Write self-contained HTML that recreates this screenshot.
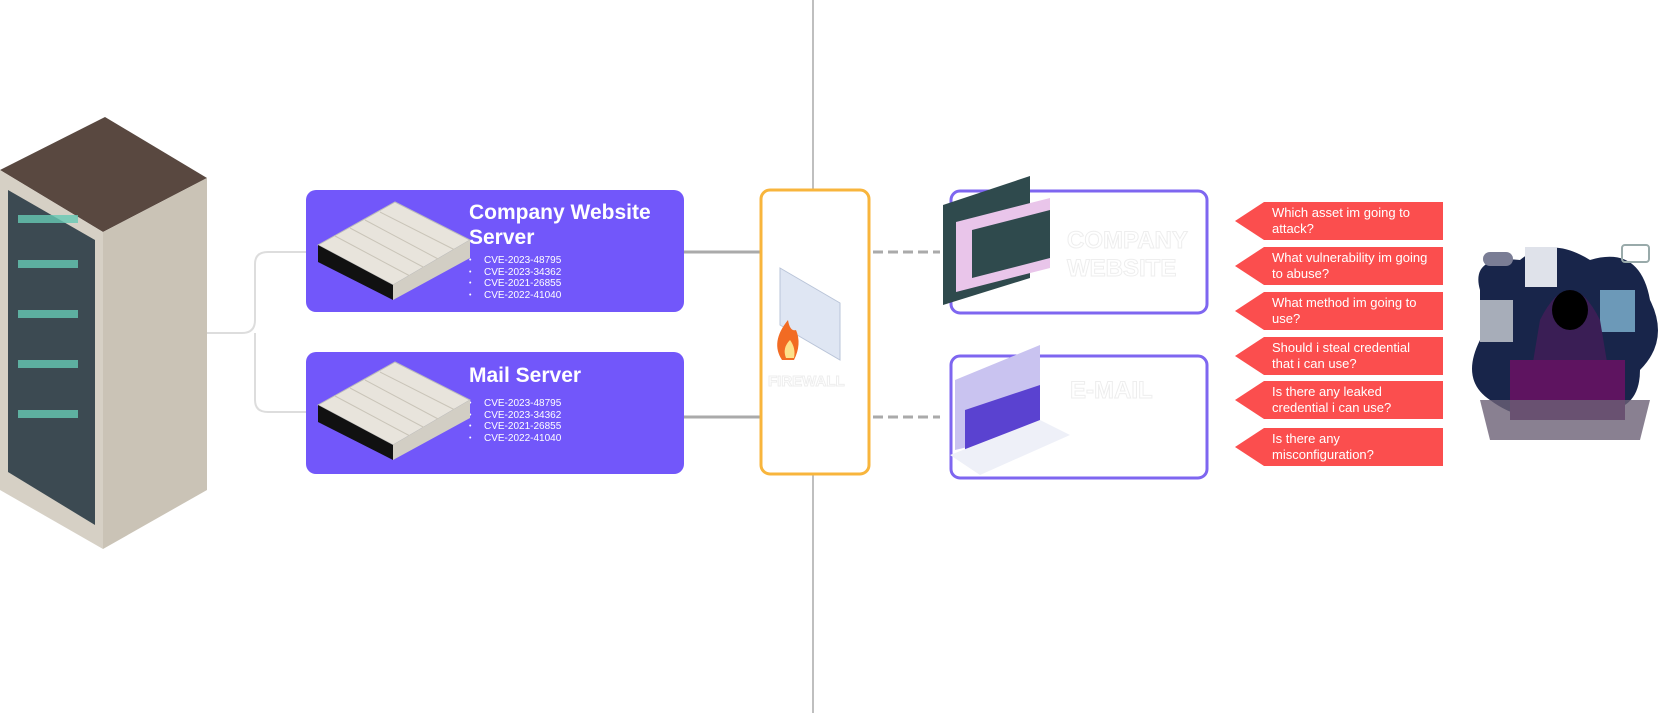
<!DOCTYPE html>
<html><head><meta charset="utf-8"><style>
html,body{margin:0;padding:0;background:#fff;width:1665px;height:713px;overflow:hidden;font-family:"Liberation Sans",sans-serif}
.abs{position:absolute}
.box{position:absolute;background:#7257fa;border-radius:10px}
.title{position:absolute;color:#fff;font-weight:bold;font-size:21px;line-height:25px}
.cve{position:absolute;color:#fff;font-size:10px;line-height:11.5px}
.cve div{position:relative}
.cve div:before{content:"•";position:absolute;left:-15px;font-size:7px}
.q{position:absolute;left:1235px;width:208px;height:38px;}
.q span{position:absolute;left:37px;top:3px;color:#fff;font-size:13px;line-height:16px;width:162px}
</style></head><body>
<svg class="abs" style="left:0;top:0" width="1665" height="713">
<line x1="813" y1="0" x2="813" y2="713" stroke="#aaa" stroke-width="1.5"/>
<path d="M207 333 H242 Q255 333 255 320 V264 Q255 252 268 252 H306 M255 333 V400 Q255 412 268 412 H306" fill="none" stroke="#ddd" stroke-width="2"/>
<line x1="684" y1="252" x2="760" y2="252" stroke="#aaa" stroke-width="3"/>
<line x1="684" y1="417" x2="760" y2="417" stroke="#aaa" stroke-width="3"/>
<line x1="873" y1="252" x2="940" y2="252" stroke="#aaa" stroke-width="3" stroke-dasharray="10,5"/>
<line x1="873" y1="417" x2="940" y2="417" stroke="#aaa" stroke-width="3" stroke-dasharray="10,5"/>
<rect x="761" y="190" width="108" height="284" rx="9" fill="#fff" stroke="#f8b53c" stroke-width="3"/>
<polygon points="780,268 840,303 840,360 780,325" fill="#dfe6f3" stroke="#b9c4d8"/>
<path d="M782 360 q-12 -18 6 -40 q2 12 8 10 q6 14 -2 30 z" fill="#f26b23"/>
<path d="M786 358 q-4 -10 4 -18 q6 8 4 18z" fill="#fde08a"/>
<rect x="951" y="191" width="256" height="122" rx="9" fill="#fff" stroke="#7e66f0" stroke-width="3"/>
<rect x="951" y="356" width="256" height="122" rx="9" fill="#fff" stroke="#7e66f0" stroke-width="3"/>
<polygon points="943,205 1030,176 1030,278 943,305" fill="#2f4a4d"/>
<polygon points="956,222 1050,198 1050,268 956,292" fill="#e9c5ea"/>
<polygon points="972,230 1050,210 1050,258 972,278" fill="#2f4a4d"/>
<polygon points="955,380 1040,345 1040,430 955,450" fill="#c9c3f0"/>
<polygon points="965,410 1040,385 1040,430 965,455" fill="#5a42d0"/>
<polygon points="950,455 1040,420 1070,435 980,475" fill="#eef0f8"/>
<polygon points="0,170 105,117 207,178 103,232" fill="#594840"/>
<polygon points="0,170 103,232 103,549 0,490" fill="#d6d0c5"/>
<polygon points="103,232 207,178 207,490 103,549" fill="#cac3b6"/>
<polygon points="8,190 95,240 95,525 8,472" fill="#3c4a52"/>
<g fill="#66c9b4" opacity=".8">
<rect x="18" y="215" width="60" height="8"/><rect x="18" y="260" width="60" height="8"/><rect x="18" y="310" width="60" height="8"/><rect x="18" y="360" width="60" height="8"/><rect x="18" y="410" width="60" height="8"/>
</g>
<g fill="#fb4e4e">
<polygon points="1235,221 1264,202 1443,202 1443,240 1264,240"/>
<polygon points="1235,266 1264,247 1443,247 1443,285 1264,285"/>
<polygon points="1235,311 1264,292 1443,292 1443,330 1264,330"/>
<polygon points="1235,356 1264,337 1443,337 1443,375 1264,375"/>
<polygon points="1235,400 1264,381 1443,381 1443,419 1264,419"/>
<polygon points="1235,447 1264,428 1443,428 1443,466 1264,466"/>
</g>
<path d="M1480 290 q-10 -35 40 -30 q30 -25 70 0 q50 -15 60 40 q20 40 -10 70 q0 50 -60 40 q-50 20 -90 -10 q-30 -20 -10 -60 z" fill="#18254a"/>
<rect x="1483" y="252" width="30" height="14" rx="7" fill="#7a7d95"/>
<rect x="1525" y="247" width="32" height="40" fill="#dfe2ea"/>
<rect x="1622" y="245" width="27" height="17" rx="3" fill="none" stroke="#9aa" stroke-width="2"/>
<rect x="1480" y="300" width="33" height="42" fill="#a7adb9"/>
<rect x="1600" y="290" width="35" height="42" fill="#6c99b8"/>
<path d="M1540 320 q30 -60 60 0 l10 60 h-80 z" fill="#3a1e55"/>
<ellipse cx="1570" cy="310" rx="18" ry="20" fill="#000"/>
<rect x="1510" y="360" width="115" height="60" fill="#5e1460"/>
<path d="M1480 400 h170 l-10 40 h-150 z" fill="#6c6075" opacity=".8"/>
</svg>

<div class="box" style="left:306px;top:190px;width:378px;height:122px"></div>
<div class="title" style="left:469px;top:200px">Company Website<br>Server</div>
<div class="cve" style="left:484px;top:255px"><div>CVE-2023-48795</div><div>CVE-2023-34362</div><div>CVE-2021-26855</div><div>CVE-2022-41040</div></div>
<div class="box" style="left:306px;top:352px;width:378px;height:122px"></div>
<div class="title" style="left:469px;top:363px">Mail Server</div>
<div class="cve" style="left:484px;top:398px"><div>CVE-2023-48795</div><div>CVE-2023-34362</div><div>CVE-2021-26855</div><div>CVE-2022-41040</div></div>
<svg class="abs" style="left:0;top:0" width="1665" height="713">
<g id="srv">
<polygon points="318,245 395,202 470,240 393,285" fill="#e8e4dc" stroke="#bbb"/>
<g stroke="#c9c4b8"><line x1="335" y1="236" x2="410" y2="276"/><line x1="350" y1="228" x2="425" y2="268"/><line x1="365" y1="220" x2="440" y2="260"/><line x1="380" y1="212" x2="455" y2="250"/></g>
<polygon points="318,245 393,285 393,300 318,262" fill="#111"/>
<polygon points="393,285 470,240 470,258 393,300" fill="#d2cec4"/>
</g>
<use href="#srv" y="160"/>
<g fill="#fff" stroke="#eee" stroke-width="1" font-family="Liberation Sans" font-weight="bold">
<text x="768" y="386" font-size="15">FIREWALL</text>
<text x="1067" y="248" font-size="24">COMPANY</text>
<text x="1067" y="276" font-size="24">WEBSITE</text>
<text x="1070" y="398" font-size="24">E-MAIL</text>
</g>
</svg>
<div class="q" style="top:202px"><span>Which asset im going to attack?</span></div>
<div class="q" style="top:247px"><span>What vulnerability im going to abuse?</span></div>
<div class="q" style="top:292px"><span>What method im going to use?</span></div>
<div class="q" style="top:337px"><span>Should i steal credential that i can use?</span></div>
<div class="q" style="top:381px"><span>Is there any leaked credential i can use?</span></div>
<div class="q" style="top:428px"><span>Is there any misconfiguration?</span></div>
</body></html>
